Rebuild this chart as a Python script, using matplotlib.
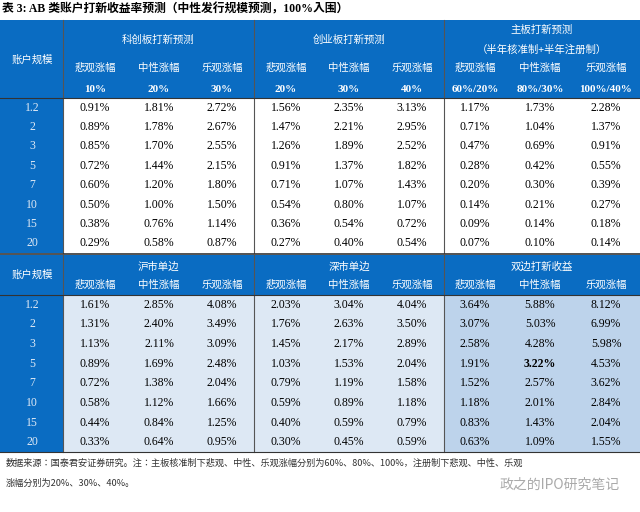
import matplotlib.pyplot as plt
from matplotlib.patches import Rectangle
from matplotlib import font_manager

# data
sizes = ["1.2", "2", "3", "5", "7", "10", "15", "20"]
top_groups = ["科创板打新预测", "创业板打新预测", "主板打新预测\n（半年核准制+半年注册制）"]
top_sub = ["悲观涨幅", "中性涨幅", "乐观涨幅"]
top_pct = [["10%", "20%", "30%"], ["20%", "30%", "40%"], ["60%/20%", "80%/30%", "100%/40%"]]
kcb = [[0.91, 1.81, 2.72], [0.89, 1.78, 2.67], [0.85, 1.70, 2.55], [0.72, 1.44, 2.15],
       [0.60, 1.20, 1.80], [0.50, 1.00, 1.50], [0.38, 0.76, 1.14], [0.29, 0.58, 0.87]]
cyb = [[1.56, 2.35, 3.13], [1.47, 2.21, 2.95], [1.26, 1.89, 2.52], [0.91, 1.37, 1.82],
       [0.71, 1.07, 1.43], [0.54, 0.80, 1.07], [0.36, 0.54, 0.72], [0.27, 0.40, 0.54]]
zb = [[1.17, 1.73, 2.28], [0.71, 1.04, 1.37], [0.47, 0.69, 0.91], [0.28, 0.42, 0.55],
      [0.20, 0.30, 0.39], [0.14, 0.21, 0.27], [0.09, 0.14, 0.18], [0.07, 0.10, 0.14]]
bottom_groups = ["沪市单边", "深市单边", "双边打新收益"]
sh = [[1.61, 2.85, 4.08], [1.31, 2.40, 3.49], [1.13, 2.11, 3.09], [0.89, 1.69, 2.48],
      [0.72, 1.38, 2.04], [0.58, 1.12, 1.66], [0.44, 0.84, 1.25], [0.33, 0.64, 0.95]]
sz = [[2.03, 3.04, 4.04], [1.76, 2.63, 3.50], [1.45, 2.17, 2.89], [1.03, 1.53, 2.04],
      [0.79, 1.19, 1.58], [0.59, 0.89, 1.18], [0.40, 0.59, 0.79], [0.30, 0.45, 0.59]]
both = [[3.64, 5.88, 8.12], [3.07, 5.03, 6.99], [2.58, 4.28, 5.98], [1.91, 3.22, 4.53],
        [1.52, 2.57, 3.62], [1.18, 2.01, 2.84], [0.83, 1.43, 2.04], [0.63, 1.09, 1.55]]

BLUE = "#0a6cc2"
installed = {f.name for f in font_manager.fontManager.ttflist}
CJK = [n for n in ["Noto Sans CJK SC", "Noto Sans CJK JP", "Noto Sans CJK TC",
                   "Noto Sans CJK KR", "Noto Serif CJK SC"] if n in installed] + ["DejaVu Sans"]
SERIF = ["Liberation Serif"] + CJK

fig = plt.figure(figsize=(6.4, 5.12), dpi=100)
ax = fig.add_axes([0, 0, 1, 1])
ax.set_xlim(0, 640)
ax.set_ylim(512, 0)
ax.axis("off")

bounds = [0, 63, 254, 444, 640]
col_x = [95, 159, 222, 286, 349, 412, 475, 540, 606]

def rect(x0, y0, x1, y1, c):
    ax.add_patch(Rectangle((x0, y0), x1 - x0, y1 - y0, color=c, lw=0))

ax.text(2, 9, "表 3: AB 类账户打新收益率预测（中性发行规模预测，100%入围）",
        fontfamily=SERIF, fontsize=8.5, fontweight="bold", va="center")

# ---- top table
h0, h1, r1 = 20, 98, 253
rect(0, h0, 640, h1, BLUE)
rect(0, h1, 63, r1, BLUE)
ax.text(32, 60, "账户规模", fontfamily=CJK, fontsize=7.5, color="white", ha="center", va="center")
for g, title in enumerate(top_groups):
    cx = (bounds[g + 1] + bounds[g + 2]) / 2
    if "\n" in title:
        t1, t2 = title.split("\n")
        ax.text(cx, 30, t1, fontfamily=CJK, fontsize=7.5, color="white", ha="center", va="center")
        ax.text(cx, 50, t2, fontfamily=CJK, fontsize=7.5, color="white", ha="center", va="center")
    else:
        ax.text(cx, 40, title, fontfamily=CJK, fontsize=7.5, color="white", ha="center", va="center")
    for j in range(3):
        x = col_x[g * 3 + j]
        ax.text(x, 68, top_sub[j], fontfamily=CJK, fontsize=7.5, color="white", ha="center", va="center")
        ax.text(x, 89, top_pct[g][j], fontfamily=SERIF, fontsize=8, fontweight="bold",
                color="white", ha="center", va="center")
rh = (r1 - h1) / 8
for i, s in enumerate(sizes):
    y = h1 + rh * (i + 0.5)
    ax.text(32, y, s, fontfamily=SERIF, fontsize=8.5, color="#dfe9f5", ha="center", va="center")
    for g, arr in enumerate([kcb, cyb, zb]):
        for j in range(3):
            ax.text(col_x[g * 3 + j], y, f"{arr[i][j]:.2f}%", fontfamily=SERIF, fontsize=8.5,
                    ha="center", va="center")
for b in bounds[1:4]:
    ax.plot([b, b], [h0, r1], color="#555555", lw=0.8)
ax.plot([0, 640], [h1, h1], color="#333333", lw=0.8)

# ---- bottom table
h2, h3, r2 = 255, 295, 452
rect(0, h2, 640, h3, BLUE)
rect(0, h3, 63, r2, BLUE)
rect(63, h3, 444, r2, "#dde8f4")
rect(444, h3, 640, r2, "#bdd3eb")
ax.plot([0, 640], [254, 254], color="#333333", lw=1.2)
ax.text(32, 275, "账户规模", fontfamily=CJK, fontsize=7.5, color="white", ha="center", va="center")
for g, title in enumerate(bottom_groups):
    cx = (bounds[g + 1] + bounds[g + 2]) / 2
    ax.text(cx, 267, title, fontfamily=CJK, fontsize=7.5, color="white", ha="center", va="center")
    for j in range(3):
        ax.text(col_x[g * 3 + j], 285, top_sub[j], fontfamily=CJK, fontsize=7.5,
                color="white", ha="center", va="center")
rh = (r2 - h3) / 8
for i, s in enumerate(sizes):
    y = h3 + rh * (i + 0.5)
    ax.text(32, y, s, fontfamily=SERIF, fontsize=8.5, color="#dfe9f5", ha="center", va="center")
    for g, arr in enumerate([sh, sz, both]):
        for j in range(3):
            bold = (g == 2 and i == 3 and j == 1)
            ax.text(col_x[g * 3 + j], y, f"{arr[i][j]:.2f}%", fontfamily=SERIF, fontsize=8.5,
                    fontweight="bold" if bold else "normal", ha="center", va="center")
for b in bounds[1:4]:
    ax.plot([b, b], [h2, r2], color="#555555", lw=0.8)
ax.plot([0, 640], [h3, h3], color="#333333", lw=0.8)
ax.plot([0, 640], [r2, r2], color="#333333", lw=0.8)

ax.text(6, 463, "数据来源：国泰君安证券研究。注：主板核准制下悲观、中性、乐观涨幅分别为60%、80%、100%，注册制下悲观、中性、乐观",
        fontfamily=CJK, fontsize=6.6, color="#333333", va="center")
ax.text(6, 483, "涨幅分别为20%、30%、40%。", fontfamily=CJK, fontsize=6.6, color="#333333", va="center")
ax.text(620, 485, "政之的IPO研究笔记", fontfamily=CJK, fontsize=10, color="#aaaaaa", ha="right", va="center")

fig.savefig("out.png", dpi=100)
